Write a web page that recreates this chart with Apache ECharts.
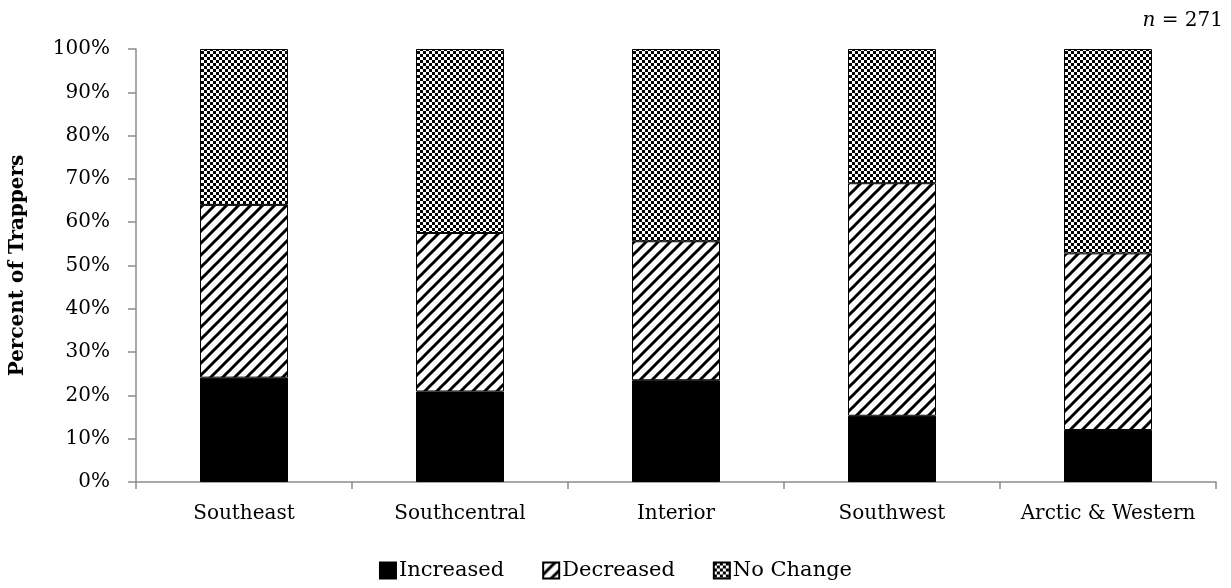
<!DOCTYPE html>
<html>
<head>
<meta charset="utf-8">
<script src="https://cdn.jsdelivr.net/npm/echarts@6/dist/echarts.min.js"></script>
<style>
  html, body { margin: 0; padding: 0; background: #fff; }
  #chart { width: 1231px; height: 588px; }
</style>
</head>
<body>
<div id="chart"></div>
<script>
// Regions and share of trappers (percent) reporting each trend
var categories = ['Southeast', 'Southcentral', 'Interior', 'Southwest', 'Arctic & Western'];
var increased = [24.1, 20.9, 23.5, 15.3, 12.0];
var decreased = [39.9, 36.6, 32.1, 53.7, 40.8];
var noChange  = [36.0, 42.5, 44.4, 31.0, 47.2];
var seriesNames = ['Increased', 'Decreased', 'No Change'];
var sampleNote = '= 271';

var FONT = 'DejaVu Serif';
var AXIS_GRAY = '#8c8c8c';

// Diagonal hatch (lines rising to the right)
function hatchPattern() {
  var p = 12;
  var c = document.createElement('canvas');
  c.width = p; c.height = p;
  var g = c.getContext('2d');
  g.fillStyle = '#fff';
  g.fillRect(0, 0, p, p);
  g.strokeStyle = '#000';
  g.lineWidth = 3;
  [-p, 0, p].forEach(function (o) {
    g.beginPath();
    g.moveTo(o - 2, p + 2);
    g.lineTo(o + p + 2, -2);
    g.stroke();
  });
  return c;
}

// Checkerboard
function checkerPattern() {
  var s = 3;
  var c = document.createElement('canvas');
  c.width = s * 2; c.height = s * 2;
  var g = c.getContext('2d');
  g.fillStyle = '#fff';
  g.fillRect(0, 0, s * 2, s * 2);
  g.fillStyle = '#000';
  g.fillRect(0, 0, s, s);
  g.fillRect(s, s, s, s);
  return c;
}

var fills = [
  '#000',
  { image: hatchPattern(), repeat: 'repeat' },
  { image: checkerPattern(), repeat: 'repeat' }
];
var values = [increased, decreased, noChange];

var chart = echarts.init(document.getElementById('chart'), null, { renderer: 'canvas' });

chart.setOption({
  animation: false,
  backgroundColor: '#fff',
  grid: { left: 131, right: 15, top: 49, bottom: 106, containLabel: false },
  title: {
    text: '{i|n} ' + sampleNote,
    right: 3, top: 6,
    textStyle: {
      fontFamily: FONT, fontSize: 20, fontWeight: 'normal', color: '#000',
      rich: { i: { fontFamily: FONT, fontStyle: 'italic', fontSize: 20, color: '#000' } }
    }
  },
  legend: {
    bottom: 2,
    left: 'center',
    itemWidth: 16,
    itemHeight: 16,
    itemGap: 38,
    icon: 'rect',
    textStyle: { fontFamily: FONT, fontSize: 21, color: '#000', padding: [0, 0, 0, -2] },
    data: seriesNames
  },
  xAxis: {
    type: 'category',
    data: categories,
    axisLine: { lineStyle: { color: AXIS_GRAY, width: 1.5 } },
    axisTick: { show: true, interval: 0, length: 7, alignWithLabel: false, lineStyle: { color: AXIS_GRAY, width: 1.5 } },
    axisLabel: { interval: 0, fontFamily: FONT, fontSize: 20, color: '#000', margin: 22 }
  },
  yAxis: {
    type: 'value',
    min: 0, max: 100, interval: 10,
    name: 'Percent of Trappers',
    nameLocation: 'middle',
    nameGap: 108,
    nameTextStyle: { fontFamily: FONT, fontSize: 20, fontWeight: 'bold', color: '#000' },
    axisLine: { show: true, lineStyle: { color: AXIS_GRAY, width: 1.5 } },
    axisTick: { show: true, length: 8, lineStyle: { color: AXIS_GRAY, width: 1.5 } },
    splitLine: { show: false },
    axisLabel: { fontFamily: FONT, fontSize: 20, color: '#000', margin: 26, formatter: '{value}%' }
  },
  series: seriesNames.map(function (name, i) {
    return {
      name: name,
      type: 'bar',
      stack: 'total',
      barWidth: 88,
      data: values[i],
      itemStyle: { color: fills[i], borderColor: '#000', borderWidth: 1 }
    };
  })
});
</script>
</body>
</html>
